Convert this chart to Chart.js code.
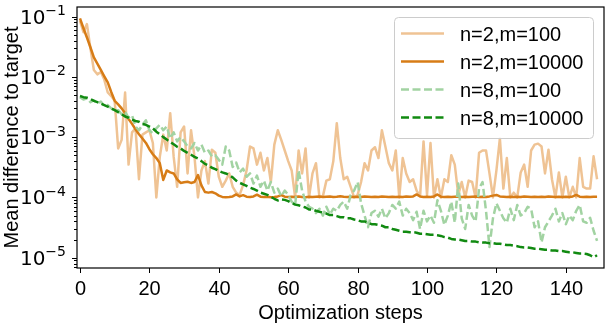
<!DOCTYPE html>
<html>
<head>
<meta charset="utf-8">
<script src="https://cdn.jsdelivr.net/npm/chart.js@4.4.1/dist/chart.umd.min.js"></script>
<style>
  html, body { margin: 0; padding: 0; background: #fff; }
  canvas { display: block; }
</style>
</head>
<body>
<canvas id="lossChart" width="606" height="326"></canvas>
<script>
// mean difference to target per optimization step (0..149)
const n2m100 = [
  0.085, 0.055, 0.075, 0.03, 0.013, 0.011, 0.012, 0.009, 0.0055, 0.0048,
  0.004, 0.00065, 0.0009, 0.0055, 0.00035, 0.0012, 0.0014, 0.0002, 0.0011, 0.0012,
  0.0013, 0.0008, 0.0001, 0.00047, 0.0011, 0.0006, 0.0025, 0.00047, 0.00015, 0.0012,
  0.0015, 0.00025, 0.0013, 0.00047, 0.0001, 0.00028, 0.0004, 0.00017, 0.00062, 0.00055,
  0.00022, 0.00015, 0.00019, 0.00025, 0.00015, 0.00012, 0.00011, 0.00016, 0.00028, 0.0007,
  0.00065, 0.00035, 0.00055, 0.00028, 0.00045, 0.00018, 0.00075, 0.0013, 0.0009, 0.0006,
  0.0004, 0.00028, 0.0001, 0.0006, 0.00025, 0.00065, 0.0001, 0.00025, 0.00037, 0.0001,
  0.000105, 0.00019, 0.0002, 0.0004, 0.0017, 0.00045, 0.0002, 0.00022, 0.00015, 0.0001,
  0.00011, 0.00018, 0.00037, 0.00028, 0.0006, 0.00068, 0.00045, 0.0013, 0.0007, 0.00037,
  0.00028, 0.0006, 0.0001, 0.00045, 0.00025, 0.00018, 0.0002, 0.00013, 0.000105, 0.00085,
  0.00011, 0.0008, 0.0001, 0.0002, 0.0001, 0.0002, 0.00018, 0.0005, 0.00035, 0.00011,
  0.00018, 0.0001, 0.00019, 0.00018, 0.0001, 0.00055, 0.0006, 0.0006, 0.00025, 0.0001,
  0.00028, 0.00095, 0.00014, 0.00045, 0.0001, 0.00012, 0.0001, 0.00026, 0.00035, 0.00015,
  0.0006, 0.00075, 0.00078, 0.0007, 0.00025, 0.00062, 0.0002, 0.0001, 0.00026, 0.0001,
  0.00022, 0.0001, 0.00015, 0.0001, 0.00045, 0.00015, 0.00014, 0.00014, 0.00048, 0.0002
];

const n2m10000 = [
  0.093, 0.064, 0.045, 0.031, 0.021, 0.0166, 0.013, 0.0102, 0.0081, 0.0056,
  0.004, 0.0035, 0.003, 0.0025, 0.002, 0.00166, 0.00135, 0.00112, 0.00095, 0.0008,
  0.00063, 0.00052, 0.00045, 0.00037, 0.000195, 0.00028, 0.00026, 0.00025, 0.0002, 0.000174,
  0.000178, 0.000182, 0.000174, 0.00018, 0.000234, 0.000158, 0.000123, 0.00012, 0.000123, 0.000117,
  0.000107, 0.000102, 0.000101, 0.000102, 0.000104, 0.000112, 0.000104, 0.000109, 0.000103, 0.000102,
  0.000104, 0.000111, 0.000103, 0.000102, 0.000103, 0.000101, 0.000102, 0.000104, 0.000109, 0.000103,
  0.000102, 0.000103, 0.000102, 0.000104, 0.000102, 0.000101, 0.000103, 0.000102, 0.000103, 0.000104,
  0.000102, 0.000103, 0.000104, 0.000102, 0.000103, 0.000105, 0.000103, 0.000102, 0.000103, 0.000102,
  0.000103, 0.000102, 0.000104, 0.000103, 0.000102, 0.000103, 0.000102, 0.000104, 0.000103, 0.000102,
  0.000103, 0.000102, 0.000103, 0.000102, 0.000104, 0.000103, 0.000104, 0.000112, 0.000104, 0.000102,
  0.000103, 0.000102, 0.000104, 0.000112, 0.000103, 0.000102, 0.000103, 0.000102, 0.000103, 0.000104,
  0.000102, 0.000103, 0.000102, 0.000103, 0.000104, 0.000102, 0.000103, 0.000102, 0.000104, 0.000107,
  0.00011, 0.000104, 0.000103, 0.000102, 0.000103, 0.000102, 0.000103, 0.000102, 0.000104, 0.000103,
  0.000102, 0.000103, 0.000102, 0.000103, 0.000102, 0.000104, 0.000103, 0.000102, 0.000103, 0.000102,
  0.000103, 0.000102, 0.000104, 0.00011, 0.000103, 0.000102, 0.000103, 0.000102, 0.000103, 0.000103
];

const n8m100 = [
  0.0046, 0.0042, 0.0044, 0.0038, 0.0041, 0.0036, 0.0039, 0.0033, 0.0034, 0.003,
  0.0027, 0.0028, 0.0024, 0.0026, 0.0021, 0.0023, 0.0015, 0.0013, 0.0016, 0.0019,
  0.0013, 0.00115, 0.0014, 0.0016, 0.0013, 0.0015, 0.00095, 0.0012, 0.00085, 0.001,
  0.00085, 0.0007, 0.00065, 0.0008, 0.0006, 0.00075, 0.00055, 0.0006, 0.00048, 0.0005,
  0.00042, 0.00035, 0.0007, 0.0006, 0.00032, 0.00038, 0.00026, 0.0003, 0.00022, 0.00025,
  0.00017, 0.00023, 0.00015, 0.00019, 0.00013, 0.00018, 0.00012, 0.00014, 0.000105, 0.00013,
  0.00011, 0.000085, 0.000075, 0.00028, 0.00013, 0.000085, 0.00007, 0.000065, 0.000055, 0.000065,
  0.00005, 0.00007, 0.000052, 0.000065, 0.00006, 0.000075, 0.000085, 0.000065, 0.00011, 0.00013,
  0.00018, 0.00008, 0.00005, 0.000032, 0.000055, 0.00006, 0.000048, 0.000065, 0.000045, 0.000055,
  0.000075, 0.000065, 0.000085, 0.00005, 0.000065, 0.000055, 0.000042, 0.000058, 0.00003, 0.00006,
  0.00004, 0.00005, 0.000038, 0.00009, 0.00006, 0.000035, 0.00005, 0.000085, 0.000038, 0.00017,
  0.000045, 0.00003, 0.000075, 0.00005, 0.00004, 0.00014, 0.00018, 0.00006, 0.000015, 0.000045,
  0.00008, 0.00006, 0.000045, 0.000038, 0.000065, 0.000042, 0.000075, 0.00005, 0.000055, 0.00007,
  0.000065, 0.000032, 0.00004, 0.000018, 0.000032, 0.00004, 0.00005, 0.000065, 0.00004, 0.000055,
  0.000036, 0.00005, 0.000042, 0.00006, 0.000075, 0.00004, 0.000038, 0.000046, 0.000028, 0.000019
];

const n8m10000 = [
  0.0048, 0.0046, 0.0045, 0.0043, 0.004, 0.0038, 0.0036, 0.0034, 0.0032, 0.003,
  0.0028, 0.0026, 0.0024, 0.0022, 0.0021, 0.00195, 0.00185, 0.0018, 0.00165, 0.0016,
  0.0015, 0.0014, 0.00123, 0.00112, 0.001, 0.00091, 0.00083, 0.00076, 0.00069, 0.00065,
  0.00059, 0.00055, 0.00051, 0.00047, 0.00044, 0.0004, 0.00036, 0.00034, 0.00031, 0.000295,
  0.000275, 0.00026, 0.00025, 0.000235, 0.000215, 0.00019, 0.000175, 0.000165, 0.000155, 0.000145,
  0.000138, 0.00013, 0.00012, 0.000115, 0.00011, 0.000102, 0.000095, 0.000089, 0.000093, 0.000091,
  0.000087, 0.000081, 0.000076, 0.000074, 0.000071, 0.000068, 0.000063, 0.000063, 0.00006, 0.000058,
  0.000056, 0.000054, 0.000051, 0.000051, 0.000049, 0.000047, 0.000047, 0.000045, 0.000045, 0.000043,
  0.000042, 0.00004, 0.00004, 0.000038, 0.000036, 0.000036, 0.000035, 0.000034, 0.000032, 0.000032,
  0.00003, 0.000029, 0.000028, 0.000027, 0.000027, 0.0000265, 0.0000265, 0.000026, 0.000025, 0.000025,
  0.0000245, 0.000024, 0.000024, 0.0000235, 0.000023, 0.000022, 0.0000215, 0.0000205, 0.00002, 0.00002,
  0.0000195, 0.000019, 0.000019, 0.0000185, 0.0000185, 0.000018, 0.0000178, 0.0000178, 0.0000174, 0.0000174,
  0.000017, 0.000017, 0.0000166, 0.0000162, 0.0000162, 0.0000158, 0.0000155, 0.000015, 0.0000148, 0.0000148,
  0.0000145, 0.0000141, 0.0000141, 0.0000138, 0.0000135, 0.0000135, 0.0000132, 0.0000132, 0.0000129, 0.0000129,
  0.0000126, 0.0000123, 0.0000123, 0.000012, 0.0000117, 0.0000117, 0.0000115, 0.000011, 0.0000102, 0.000011
];

const seriesLabels = ["n=2,m=100", "n=2,m=10000", "n=8,m=100", "n=8,m=10000"];
const xTicks = [0, 20, 40, 60, 80, 100, 120, 140];
const yDecades = [-5, -4, -3, -2, -1];

const TEXT_FONT = '"Liberation Sans", Arial, Helvetica, sans-serif';
const MATH_FONT = '"DejaVu Sans", sans-serif';

const toPoints = values => values.map((v, i) => ({ x: i, y: v }));

const datasets = [
  { label: seriesLabels[0], data: toPoints(n2m100), borderColor: "#EFC394", borderDash: [], order: 4 },
  { label: seriesLabels[1], data: toPoints(n2m10000), borderColor: "#D77C16", borderDash: [], order: 3 },
  { label: seriesLabels[2], data: toPoints(n8m100), borderColor: "#A2D3A2", borderDash: [8, 3.5], order: 2 },
  { label: seriesLabels[3], data: toPoints(n8m10000), borderColor: "#118A11", borderDash: [8, 3.5], order: 1 }
].map(d => ({
  ...d,
  borderWidth: 2.5,
  pointRadius: 0,
  tension: 0,
  fill: false,
  borderJoinStyle: "round",
  borderCapStyle: "butt"
}));

// spines, ticks, tick labels, axis titles and legend box
const axesDecor = {
  id: "axesDecor",
  afterDraw(chart) {
    const { ctx, chartArea: a } = chart;
    const xs = chart.scales.x;
    const ys = chart.scales.y;

    ctx.save();
    ctx.strokeStyle = "#000";
    ctx.fillStyle = "#000";

    // frame
    ctx.lineWidth = 1.2;
    ctx.strokeRect(a.left, a.top, a.right - a.left, a.bottom - a.top);

    // x ticks + labels
    ctx.lineWidth = 1;
    ctx.font = "20px " + TEXT_FONT;
    ctx.textAlign = "center";
    ctx.textBaseline = "alphabetic";
    xTicks.forEach(v => {
      const px = Math.round(xs.getPixelForValue(v)) + 0.5;
      ctx.beginPath();
      ctx.moveTo(px, a.bottom);
      ctx.lineTo(px, a.bottom + 5);
      ctx.stroke();
      ctx.fillText(String(v), px, 295);
    });

    // y ticks (major + minor)
    for (let e = -6; e <= 0; e++) {
      for (let m = 1; m <= 9; m++) {
        const v = m * Math.pow(10, e);
        if (v < ys.min || v > ys.max) continue;
        const py = Math.round(ys.getPixelForValue(v)) + 0.5;
        ctx.beginPath();
        ctx.moveTo(a.left, py);
        ctx.lineTo(a.left - (m === 1 ? 5 : 3), py);
        ctx.stroke();
      }
    }

    // y tick labels as 10^e
    yDecades.forEach(e => {
      const py = ys.getPixelForValue(Math.pow(10, e));
      const exp = "\u2212" + String(-e);
      const right = 66;
      ctx.textAlign = "right";
      ctx.font = "14px " + MATH_FONT;
      const expW = ctx.measureText(exp).width;
      ctx.fillText(exp, right, py - 1.5);
      ctx.font = "20px " + MATH_FONT;
      ctx.fillText("10", right - expW, py + 7);
    });

    // axis titles
    ctx.font = "20px " + TEXT_FONT;
    ctx.textAlign = "center";
    ctx.fillText("Optimization steps", (a.left + a.right) / 2, 319);
    ctx.save();
    ctx.translate(18, (a.top + a.bottom) / 2);
    ctx.rotate(-Math.PI / 2);
    ctx.fillText("Mean difference to target", 0, 0);
    ctx.restore();

    // legend
    const box = { x: 394.5, y: 17.5, w: 199, h: 121 };
    ctx.beginPath();
    ctx.roundRect(box.x, box.y, box.w, box.h, 4);
    ctx.fillStyle = "rgba(255,255,255,0.8)";
    ctx.fill();
    ctx.strokeStyle = "#cccccc";
    ctx.lineWidth = 1;
    ctx.stroke();

    chart.data.datasets.forEach((d, i) => {
      const ry = 33.5 + i * 28;
      ctx.beginPath();
      ctx.setLineDash(d.borderDash);
      ctx.strokeStyle = d.borderColor;
      ctx.lineWidth = d.borderWidth;
      ctx.moveTo(401, ry);
      ctx.lineTo(444, ry);
      ctx.stroke();
      ctx.setLineDash([]);
      ctx.fillStyle = "#000";
      ctx.textAlign = "left";
      ctx.font = "20px " + TEXT_FONT;
      ctx.fillText(d.label, 460, ry + 7.5);
    });

    ctx.restore();
  }
};

new Chart(document.getElementById("lossChart").getContext("2d"), {
  type: "line",
  data: { datasets: datasets },
  options: {
    responsive: false,
    animation: false,
    devicePixelRatio: 1,
    layout: { padding: { left: 77, top: 7, right: 2, bottom: 58 } },
    plugins: {
      legend: { display: false },
      tooltip: { enabled: false }
    },
    scales: {
      x: { type: "linear", min: -0.86, max: 151, display: false },
      y: { type: "logarithmic", min: 6.75e-6, max: 0.144, display: false }
    }
  },
  plugins: [axesDecor]
});
</script>
</body>
</html>
